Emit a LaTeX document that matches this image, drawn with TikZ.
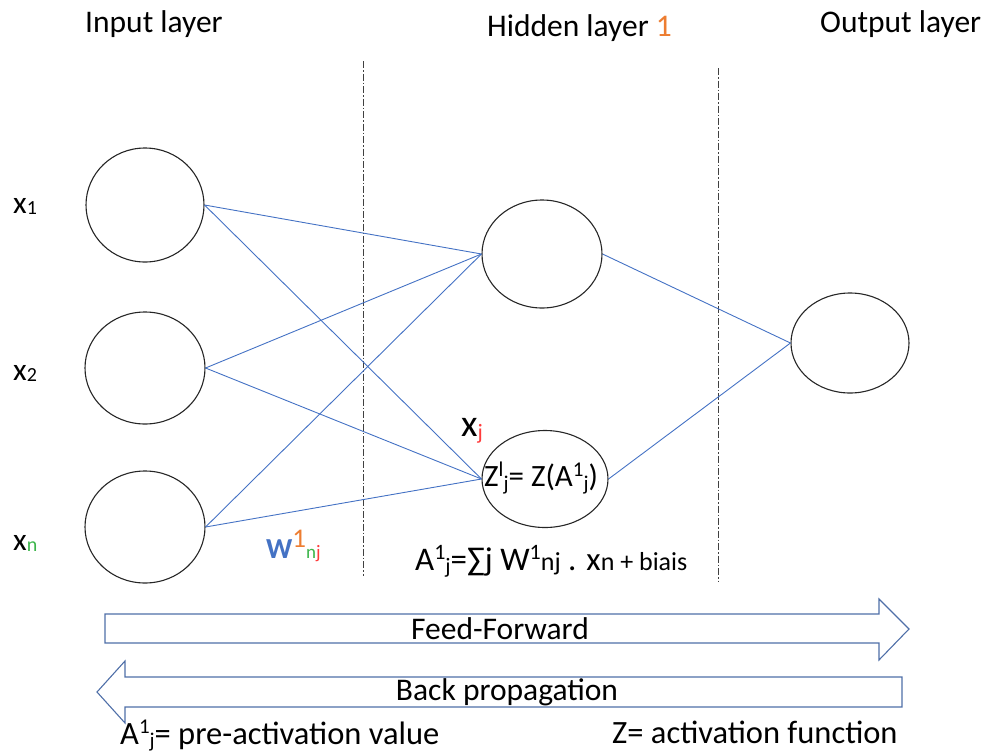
\documentclass[tikz,border=0pt]{standalone}
\usepackage{fontspec}
\setmainfont{Carlito}
\usetikzlibrary{shapes.geometric}
\definecolor{linkblue}{HTML}{4472C4}
\definecolor{arrowblue}{HTML}{4F6FA8}
\definecolor{accorange}{HTML}{ED7D31}
\definecolor{accgreen}{HTML}{3BB54A}
\definecolor{accred}{HTML}{FF3B3B}
\newcommand{\fs}[1]{\fontsize{#1}{#1}\selectfont}
\newcommand{\lowsub}[2]{\raisebox{#1}{\fs{20}#2}}
\begin{document}
\begin{tikzpicture}[x=1pt,y=-1pt,
  neuron/.style={draw=black!85, line width=1.1pt, ellipse, inner sep=0pt},
  link/.style={draw=linkblue, line width=0.9pt},
  divider/.style={draw=black!75, line width=0.9pt, dash pattern=on 7pt off 2pt on 1.5pt off 2pt},
  flow/.style={draw=arrowblue, line width=1.1pt, fill=white, line join=miter},
  lbl/.style={inner sep=0pt, font=\fs{31.5}},
]
\useasboundingbox (0,0) rectangle (986,753);

% layer dividers
\draw[divider] (363,61) -- (363,576);
\draw[divider] (718,68) -- (718,582);

% neurons
\node[neuron, minimum width=118pt, minimum height=114pt] (i1) at (145,205) {};
\node[neuron, minimum width=120pt, minimum height=112pt] (i2) at (145,368) {};
\node[neuron, minimum width=120pt, minimum height=112pt] (in) at (145,527) {};
\node[neuron, minimum width=120pt, minimum height=108pt] (h1) at (542,254) {};
\node[neuron, minimum width=126pt, minimum height=97pt]  (h2) at (545,479) {};
\node[neuron, minimum width=118pt, minimum height=100pt] (out) at (850,343) {};

% weighted connections
\foreach \s in {i1,i2,in} {
  \draw[link] (\s.east) -- (h1.west);
  \draw[link] (\s.east) -- (h2.west);
}
\draw[link] (h1.east) -- (out.west);
\draw[link] (h2.east) -- (out.west);

% layer titles
\node[lbl, anchor=base west] (tin) at (85,32) {Input layer};
\node[lbl, anchor=base west] (thid) at (487,36) {Hidden layer {\color{accorange}1}};
\node[lbl, anchor=base west] (tout) at (820,32) {Output layer};

% input labels
\node[lbl, anchor=base west] (x1) at (13,213) {x\lowsub{-1pt}{1}};
\node[lbl, anchor=base west] (x2) at (13,380) {x\lowsub{-1pt}{2}};
\node[lbl, anchor=base west] (xn) at (13,550) {x\lowsub{-1pt}{\color{accgreen}n}};

% weight label
\node[inner sep=0pt, anchor=base west] (w) at (266,558)
  {\fs{29}\bfseries\color{linkblue}W\mdseries\color{accorange}\raisebox{11pt}{\fs{27}1}\fs{19}{\color{accgreen}n}{\color{accred}j}};

% neuron j label and activation
\node[inner sep=0pt, anchor=base west] (xj) at (461,436) {\fs{38}x\raisebox{-3pt}{\fs{22}\color{accred}j}};
\node[inner sep=0pt, anchor=base west] (zj) at (484,486)
  {\fs{31}Z\raisebox{10pt}{\fs{21}l}\raisebox{-4pt}{\fs{21}j}= Z(A\raisebox{10pt}{\fs{21}1}\raisebox{-4pt}{\fs{21}j})};

% pre-activation formula
\node[inner sep=0pt, anchor=base west] (pre) at (415,570)
  {\fs{33}A\raisebox{11pt}{\fs{22}1}\raisebox{-3pt}{\fs{22}j}=\char"2211 j W\raisebox{11pt}{\fs{22}1}{\fs{26}nj} . x{\fs{26}n + biais}};

% propagation arrows
\draw[flow] (105,614) -- (879,614) -- (879,599) -- (909,629) -- (879,660) -- (879,643) -- (105,643) -- cycle;
\draw[flow] (902,677) -- (125,677) -- (125,661) -- (97,692) -- (125,723) -- (125,707) -- (902,707) -- cycle;
\node[lbl] (ff) at (500,629) {Feed-Forward};
\node[lbl] (bp) at (507,692) {Back propagation};

% legend
\node[inner sep=0pt, font=\fs{32.5}, anchor=base west] (leg1) at (120,744)
  {A\raisebox{11pt}{\fs{21}1}\raisebox{-3pt}{\fs{21}j}= pre-activation value};
\node[inner sep=0pt, font=\fs{32.5}, anchor=base west] (leg2) at (612,743) {Z= activation function};
\end{tikzpicture}
\end{document}
